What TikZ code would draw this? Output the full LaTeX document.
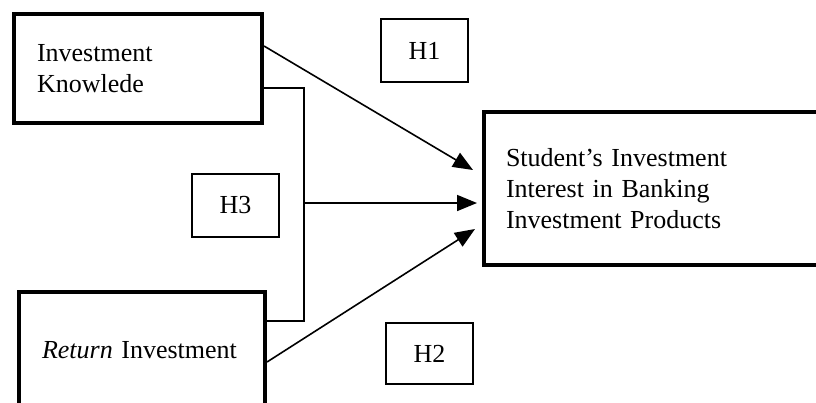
\documentclass[tikz,border=0pt]{standalone}
\usepackage{fontspec}
\setmainfont{Liberation Serif}
\usetikzlibrary{arrows.meta}
\begin{document}
\begin{tikzpicture}[x=1pt,y=-1pt,
    varbox/.style={draw,line width=4pt,align=left,anchor=center,inner xsep=23pt,inner ysep=0pt,
      font=\fontsize{26}{31}\selectfont},
    hbox/.style={draw,line width=1.5pt,minimum width=87pt,minimum height=63pt,inner sep=0pt,
      font=\fontsize{26}{31}\selectfont},
    arr/.style={line width=1.6pt,-{Triangle[length=20pt,width=16pt]}}]
  \useasboundingbox (0,0) rectangle (816,402);
  \clip (0,0) rectangle (816,402);
  % variables
  \node[varbox,text width=202pt,minimum height=109pt] (know) at (138,68.5) {Investment\\Knowlede};
  \node[varbox,text width=200pt,minimum height=116pt] (ret) at (142,350) {\textit{Return} Investment};
  \node[varbox,text width=302pt,minimum height=153pt,inner xsep=22pt] (int) at (657,188.5)
    {Student’s Investment\\Interest in Banking\\Investment Products};
  % hypotheses
  \node[hbox] (h1) at (424.5,50.5) {H1};
  \node[hbox] (h3) at (235.5,205.5) {H3};
  \node[hbox,minimum height=61pt] (h2) at (429.5,353.5) {H2};
  % joint effect
  \coordinate (jtop) at (304,88);
  \coordinate (jmid) at (304,203);
  \coordinate (jbot) at (304,321);
  \draw[line width=1.5pt] ([yshift=-19.5pt]know.east) -- (jtop) -- (jbot) -- ([yshift=29pt]ret.east);
  \draw[arr] (jmid) -- ([xshift=-5pt]int.west |- jmid);
  % direct effects
  \coordinate (e1) at (473,170);
  \coordinate (e2) at (475,229);
  \draw[arr] ([yshift=22.5pt]know.east) -- (e1);
  \draw[arr] ([yshift=-12pt]ret.east) -- (e2);
\end{tikzpicture}
\end{document}
